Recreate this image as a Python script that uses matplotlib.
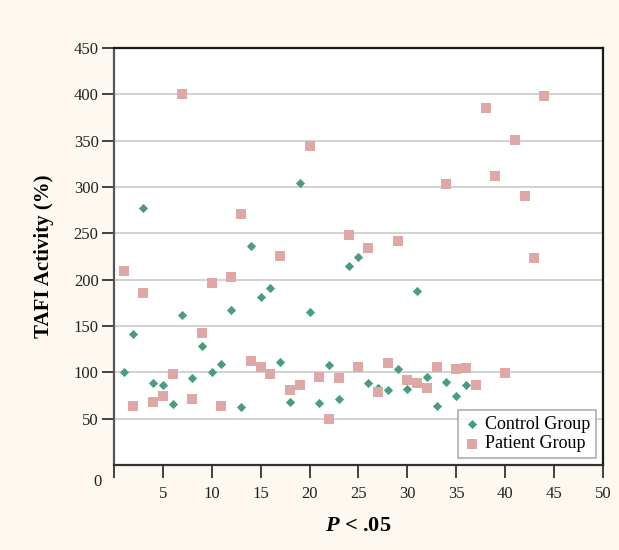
import matplotlib.pyplot as plt

# Subject index (x) and TAFI activity (%)
control_x = list(range(1, 37))
control_y = [100, 141, 277, 89, 86, 66, 162, 94, 128, 100, 109, 167,
             63, 236, 181, 191, 111, 68, 304, 165, 67, 108, 71, 215,
             225, 88, 83, 81, 104, 82, 188, 95, 64, 90, 75, 86]

patient_x = list(range(1, 45))
patient_y = [209, 64, 186, 68, 74, 98, 400, 71, 143, 196, 64, 203,
             271, 112, 106, 98, 226, 81, 86, 344, 95, 50, 94, 248,
             106, 234, 79, 110, 242, 92, 89, 83, 106, 303, 104, 105,
             86, 385, 312, 99, 351, 290, 224, 398]

x_ticks = [0, 5, 10, 15, 20, 25, 30, 35, 40, 45, 50]
x_tick_labels = ["", "5", "10", "15", "20", "25", "30", "35", "40", "45", "50"]
y_ticks = [50, 100, 150, 200, 250, 300, 350, 400, 450]

GREEN = "#4b9b7d"
PINK = "#dda8a5"
BG = "#fdf9f1"

plt.rcParams['font.family'] = ['Liberation Serif', 'DejaVu Serif']
plt.rcParams['mathtext.fontset'] = 'custom'
plt.rcParams['mathtext.rm'] = 'Liberation Serif'
plt.rcParams['mathtext.it'] = 'Liberation Serif:italic'
plt.rcParams['mathtext.bf'] = 'Liberation Serif:bold'
plt.rcParams['mathtext.bfit'] = 'Liberation Serif:italic:bold'


def main():
    fig = plt.figure(figsize=(6.19, 5.50), dpi=100, facecolor=BG)
    ax = fig.add_axes([0.184, 0.1545, 0.790, 0.758])
    ax.set_facecolor("white")

    ax.scatter(control_x, control_y, marker="D", s=22, color=GREEN,
               label="Control Group", zorder=3, linewidths=0)
    ax.scatter(patient_x, patient_y, marker="s", s=50, color=PINK,
               label="Patient Group", zorder=3, linewidths=0)

    ax.set_xlim(0, 50)
    ax.set_ylim(0, 450)
    ax.set_xticks(x_ticks)
    ax.set_xticklabels(x_tick_labels)
    ax.set_yticks(y_ticks)
    ax.yaxis.grid(True, color="#cfcfcf", linewidth=1.3)
    ax.set_axisbelow(True)

    ax.tick_params(axis="both", direction="out", length=9, width=1.3,
                   labelsize=12, color="#333333", labelcolor="#222222")
    ax.tick_params(axis="x", pad=6)
    ax.tick_params(axis="y", pad=2)

    for side in ["top", "right"]:
        ax.spines[side].set_color("#1a1a1a")
        ax.spines[side].set_linewidth(1.6)
    ax.spines["left"].set_color("#555555")
    ax.spines["left"].set_linewidth(1.6)
    ax.spines["bottom"].set_color("#333333")
    ax.spines["bottom"].set_linewidth(1.6)

    # shared origin label in the corner
    ax.text(-0.033, -0.04, "0", transform=ax.transAxes, ha="center",
            va="center", fontsize=12, color="#222222")

    ax.set_ylabel("TAFI Activity (%)", fontsize=15, fontweight="bold",
                  labelpad=14)
    ax.set_xlabel(r"$\mathbfit{P}$" + " < .05", fontsize=16,
                  fontweight="bold", labelpad=10)

    leg = ax.legend(loc="lower right", fontsize=13, frameon=True,
                    fancybox=False, edgecolor="#999999", handletextpad=0.2,
                    borderpad=0.3, handlelength=1.0, labelspacing=0.15,
                    borderaxespad=0.4)
    leg.get_frame().set_linewidth(1.2)

    fig.savefig("out.png", dpi=100, facecolor=BG)


if __name__ == '__main__':
    main()
